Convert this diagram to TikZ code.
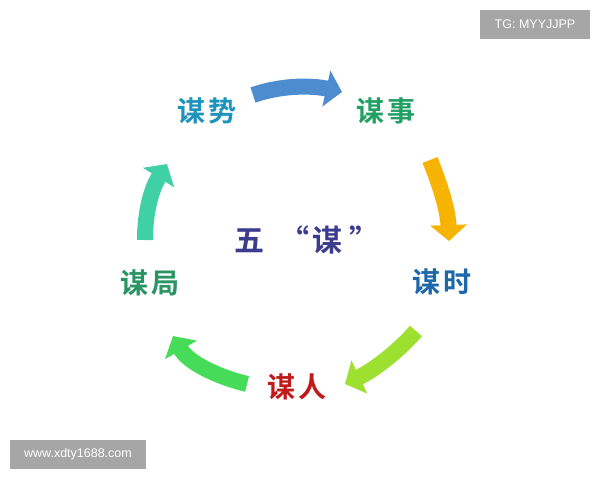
\documentclass[tikz,border=0pt]{standalone}
\usepackage{fontspec}
\setmainfont{Liberation Sans}
\newfontfamily\cjk{Noto Sans CJK SC Bold}
\usetikzlibrary{arrows.meta}
\definecolor{cShi}{HTML}{1E94BC}
\definecolor{cShiB}{HTML}{22A064}
\definecolor{cTime}{HTML}{1C68A8}
\definecolor{cRen}{HTML}{C01A1A}
\definecolor{cJu}{HTML}{2A9464}
\definecolor{cWu}{HTML}{3C3C8E}
\definecolor{aBlue}{HTML}{4E8CD0}
\definecolor{aOrange}{HTML}{F6B400}
\definecolor{aLime}{HTML}{9EE030}
\definecolor{aGreen}{HTML}{46DC58}
\definecolor{aTeal}{HTML}{40D0A6}
\definecolor{wmgray}{HTML}{A6A6A6}
\begin{document}
\begin{tikzpicture}[x=1pt,y=-1pt,
  lbl/.style={font=\cjk\fontsize{28}{28}\selectfont, inner sep=0pt},
  bigarrow/.style={line width=16pt, -{Triangle[length=16pt,width=36pt]}},
  wm/.style={fill=wmgray, text=white, font=\fontsize{12.5}{13}\selectfont, inner sep=0pt}]
\useasboundingbox[fill=white] (0,0) rectangle (600,480);
% watermarks
\node[wm, minimum width=110pt, minimum height=29pt] (tg) at (535,24.5) {TG: MYYJJPP};
\node[wm, minimum width=136pt, minimum height=29pt] (web) at (78,454.5) {www.xdty1688.com};
% labels
\node[lbl, text=cShi] (shi) at (207,111) {谋\hspace{4pt}势};
\node[lbl, text=cShiB] (shib) at (386,111) {谋\hspace{4pt}事};
\node[lbl, text=cTime] (time) at (442,282) {谋\hspace{4pt}时};
\node[lbl, text=cRen] (ren) at (297,387) {谋\hspace{4pt}人};
\node[lbl, text=cJu] (ju) at (150,283) {谋\hspace{4pt}局};
\node[lbl, text=cWu, font=\cjk\fontsize{30}{30}\selectfont] (wu) at (307,240) {五\hspace{16pt}“\hspace{2pt}谋\hspace{8pt}”};
% arrow end points
\coordinate (a1s) at (253,95);  \coordinate (a1e) at (342,92);
\coordinate (a2s) at (430,160); \coordinate (a2e) at (449,241);
\coordinate (a3s) at (416,331); \coordinate (a3e) at (345,384);
\coordinate (a4s) at (247,384); \coordinate (a4e) at (173,336);
\coordinate (a5s) at (145,240); \coordinate (a5e) at (167,164);
% arrows
\draw[bigarrow, aBlue]   (a1s) .. controls (285,84) and (315,86) .. (a1e);
\draw[bigarrow, aOrange] (a2s) .. controls (440,185) and (448,210) .. (a2e);
\draw[bigarrow, aLime]   (a3s) .. controls (395,355) and (370,372) .. (a3e);
\draw[bigarrow, aGreen]  (a4s) .. controls (215,376) and (188,362) .. (a4e);
\draw[bigarrow, aTeal]   (a5s) .. controls (145,210) and (152,188) .. (a5e);
\end{tikzpicture}
\end{document}
